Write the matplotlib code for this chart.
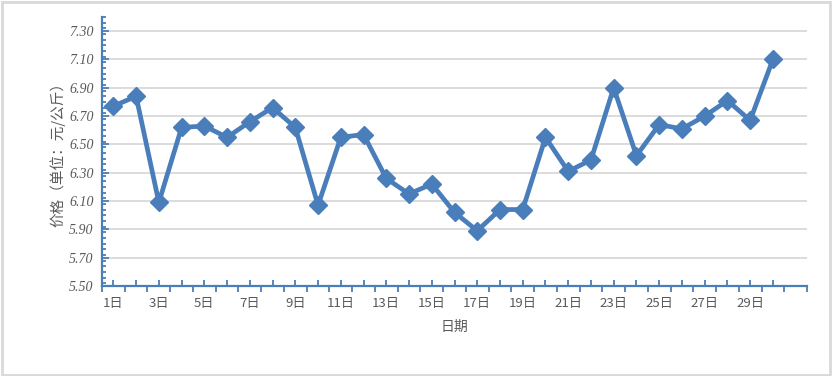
import matplotlib
matplotlib.use("Agg")
import matplotlib.pyplot as plt
import numpy as np
from matplotlib.ticker import MultipleLocator, FixedLocator
from matplotlib.patches import Rectangle

plt.rcParams['font.family'] = ['Noto Sans CJK SC', 'DejaVu Sans']

days = [f"{i}日" for i in range(1, 31)]
prices = [6.77, 6.84, 6.09, 6.62, 6.63, 6.55, 6.66, 6.76, 6.62, 6.07,
          6.55, 6.57, 6.26, 6.15, 6.22, 6.02, 5.89, 6.04, 6.04, 6.55,
          6.31, 6.39, 6.90, 6.42, 6.64, 6.61, 6.70, 6.81, 6.67, 7.10]
y_ticks = [5.50, 5.70, 5.90, 6.10, 6.30, 6.50, 6.70, 6.90, 7.10, 7.30]
y_label = "价格（单位：元/公斤）"
x_label = "日期"

W, H = 832, 376
fig = plt.figure(figsize=(W / 100, H / 100), dpi=100)
fig.patches.append(Rectangle((0.002, 0.003), 0.995, 0.993, transform=fig.transFigure,
                             fill=False, edgecolor='#d9d9d9', linewidth=2))
L, R, T, B = 102, 807, 17, 286
ax = fig.add_axes([L / W, 1 - B / H, (R - L) / W, (B - T) / H])

blue = '#4a7ebb'
gray = '#595959'
n_cat = 31
x = np.arange(len(prices)) + 0.5
ax.plot(x, prices, color=blue, linewidth=3.4, marker='D', markersize=9.5,
        markerfacecolor=blue, markeredgecolor=blue, zorder=3, clip_on=False)

ax.set_xlim(0, n_cat)
ax.set_ylim(5.5, 7.4)

for s in ['top', 'right']:
    ax.spines[s].set_visible(False)
for s in ['left', 'bottom']:
    ax.spines[s].set_color(blue)
    ax.spines[s].set_linewidth(1.6)

ax.yaxis.set_major_locator(FixedLocator(y_ticks))
ax.yaxis.set_minor_locator(MultipleLocator(0.04))
ax.set_yticklabels([f"{v:.2f}" for v in y_ticks], family='Liberation Serif',
                   style='italic', fontsize=10, color=gray)
ax.tick_params(axis='y', which='major', direction='in', length=5, width=1.3, color=blue, pad=6)
ax.tick_params(axis='y', which='minor', direction='in', length=3, width=1.3, color=blue)
ax.grid(axis='y', which='major', color='#d9d9d9', linewidth=1.3, zorder=0)

# x: major ticks at category boundaries (outward), minor at centers (inward)
ax.xaxis.set_major_locator(FixedLocator(np.arange(0, n_cat + 1)))
ax.set_xticklabels([''] * (n_cat + 1))
ax.set_xticks(np.arange(len(prices)) + 0.5, minor=True)
ax.set_xticklabels([d if i % 2 == 0 else '' for i, d in enumerate(days)], minor=True,
                   fontsize=9.5, color=gray)
ax.tick_params(axis='x', which='major', direction='out', length=4, width=1.3, color=blue)
ax.tick_params(axis='x', which='minor', direction='in', length=4, width=1.3, color=blue, pad=8)

ax.set_xlabel(x_label, fontsize=10, color=gray, labelpad=7)
ax.set_ylabel(y_label, fontsize=10.5, color=gray, labelpad=3)

fig.savefig('out.png', dpi=100)
